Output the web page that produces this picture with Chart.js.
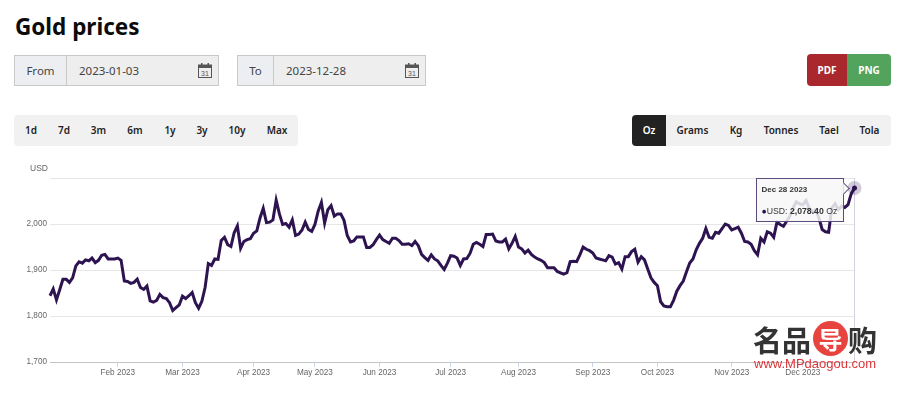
<!DOCTYPE html>
<html lang="en">
<head>
  <meta charset="UTF-8">
  <title>Gold prices</title>
  <style>
    html, body { margin: 0; padding: 0; background: #fff; }
    body { width: 900px; height: 393px; position: relative; overflow: hidden; font-family: "Noto Sans", sans-serif; }
    h1 { position: absolute; left: 15px; top: 9px; margin: 0; font-size: 22.5px; line-height: 36px; font-weight: 700; color: #0b0b0b; }

    .range { position: absolute; top: 55px; height: 29px; border: 1.5px solid #c9c9c9; background: #eeeeee; color: #444; font-size: 11.5px; line-height: 29px; }
    .range .lbl { position: absolute; left: 0; top: 0; bottom: 0; background: #eceef2; border-right: 1.5px solid #c9c9c9; text-align: center; }
    .range .val { position: absolute; top: 0; }
    .range svg { position: absolute; top: 7px; }

    .export { position: absolute; left: 807px; top: 54px; width: 84px; height: 32px; border-radius: 4px; overflow: hidden; color: #fff; font-size: 10px; font-weight: 700; line-height: 32px; text-align: center; }
    .export div { position: absolute; top: 0; bottom: 0; }

    .bar { position: absolute; top: 115px; height: 31px; background: #f1f1f1; border-radius: 4px; font-size: 10px; font-weight: 600; color: #222; }
    .bar span { position: absolute; top: 0; line-height: 31px; transform: translateX(-50%); }
    .bar .on { position: absolute; left: 0; top: 0; bottom: 0; width: 34px; background: #222; border-radius: 4px 0 0 4px; }

    #wrap { position: absolute; left: 0; top: 150px; width: 900px; height: 243px; }
    #usd { position: absolute; left: 30px; top: 163px; font: 8.5px "Liberation Sans", sans-serif; color: #666; }

    #tip { position: absolute; display: none; width: 86px; height: 42px; background: rgba(247,247,247,.85); border: 1px solid #5d4b7d; font-family: "Liberation Sans", sans-serif; color: #333; }
    #tip b.t { position: absolute; left: 5px; top: 6px; font-size: 8px; white-space: nowrap; }
    #tip .l { position: absolute; left: 5px; top: 27px; font-size: 8.7px; white-space: nowrap; }
    #tip .c { position: absolute; right: -5px; top: 5px; width: 8px; height: 8px; background: rgba(247,247,247,.85); border: solid #5d4b7d; border-width: 1px 1px 0 0; transform: rotate(45deg); }

    #mark { position: absolute; left: 0; top: 0; pointer-events: none; }
    #mark span { position: absolute; white-space: nowrap; }
    #mark .cn { font: 700 29px/36px "Noto Sans CJK SC", sans-serif; color: #333; top: 321px; }
    #mark .dot { left: 813px; top: 321px; width: 35px; height: 35px; border-radius: 50%; background: #e8443f; color: #fff; font: 700 24px/35px "Noto Sans CJK SC", sans-serif; text-align: center; }
    #mark .url { left: 754px; top: 356px; font: 13px/15px "Liberation Sans", sans-serif; color: #d9363a; }
  </style>
</head>
<body>
  <h1>Gold prices</h1>

  <div class="range" style="left:14px;width:203px">
    <div class="lbl" style="width:51px">From</div>
    <div class="val" style="left:64px">2023-01-03</div>
    <svg style="left:183px" width="14" height="15" viewBox="0 0 14 15"><rect x=".5" y="2" width="13" height="12.5" fill="none" stroke="#555"/><rect x=".5" y="2" width="13" height="3" fill="#555"/><rect x="3" y="0" width="1.5" height="3" fill="#555"/><rect x="9.5" y="0" width="1.5" height="3" fill="#555"/><text x="7" y="12.5" font-size="7" text-anchor="middle" fill="#555" font-family="Liberation Sans">31</text></svg>
  </div>
  <div class="range" style="left:237px;width:187px">
    <div class="lbl" style="width:35px">To</div>
    <div class="val" style="left:48px">2023-12-28</div>
    <svg style="left:167px" width="14" height="15" viewBox="0 0 14 15"><rect x=".5" y="2" width="13" height="12.5" fill="none" stroke="#555"/><rect x=".5" y="2" width="13" height="3" fill="#555"/><rect x="3" y="0" width="1.5" height="3" fill="#555"/><rect x="9.5" y="0" width="1.5" height="3" fill="#555"/><text x="7" y="12.5" font-size="7" text-anchor="middle" fill="#555" font-family="Liberation Sans">31</text></svg>
  </div>

  <div class="export">
    <div style="left:0;width:40px;background:#a9282d">PDF</div>
    <div style="left:40px;width:44px;background:#52a35c">PNG</div>
  </div>

  <div class="bar" id="periods" style="left:14px;width:284px"></div>
  <div class="bar" id="units" style="left:632px;width:259px"><div class="on"></div></div>

  <div id="wrap"><canvas id="grafico"></canvas></div>
  <div id="usd">USD</div>
  <div id="tip"><b class="t"></b><div class="l"></div><div class="c"></div></div>

  <div id="mark">
    <span class="cn" style="left:753px">名品</span>
    <span class="dot">导</span>
    <span class="cn" style="left:848px">购</span>
    <span class="url">www.MPdaogou.com</span>
  </div>

  <script src="https://cdn.jsdelivr.net/npm/chart.js"></script>
  <script>
    // Trading day slot where each month tick sits, and its label
    const tickSlots = [21, 41, 63, 82, 102, 124, 145, 168, 188, 211, 233];
    const tickLabels = ['Feb 2023', 'Mar 2023', 'Apr 2023', 'May 2023', 'Jun 2023', 'Jul 2023', 'Aug 2023', 'Sep 2023', 'Oct 2023', 'Nov 2023', 'Dec 2023'];
    const yTicks = [1700, 1800, 1900, 2000, 2100];
    const lastDate = 'Dec 28 2023';

    // USD per oz, one value per trading day
    const usdPerOz = [
      1844,1859,1835,1857,1880,1880,1873,1883,1909,1918,
      1915,1922,1920,1926,1916,1921,1932,1934,1924,1924,
      1924,1926,1921,1876,1875,1871,1873,1880,1862,1858,
      1865,1833,1830,1834,1847,1840,1838,1829,1812,1818,
      1824,1843,1838,1844,1851,1829,1817,1832,1862,1914,
      1910,1924,1923,1964,1971,1955,1951,1981,1996,1947,
      1962,1966,1968,1980,1985,2013,2034,2003,2004,2009,
      2052,2022,1999,2001,1993,2009,1975,1978,1987,2004,
      1988,1984,1999,2028,
      2047,2002,2031,2040,2017,2022,2022,2008,1975,1961,
      1963,1972,1972,1972,1949,1949,1955,1966,1976,1966,
      1962,1958,1969,1969,1964,1956,1956,1957,1953,1962,
      1953,1934,1927,1921,1933,1924,1920,1910,1901,1915,
      1931,1930,1926,1910,1924,1925,1936,1956,1960,1956,
      1951,1977,1977,1978,1963,1961,1961,1967,1946,1958,
      1973,1950,1946,1937,1943,1934,1928,1924,1921,1916,
      1905,1905,1905,1897,1894,1891,1894,1918,1919,1918,
      1933,1950,1945,1942,1937,1926,
      1924,1922,1920,1931,1928,1913,1916,1902,1929,1929,
      1940,1945,1917,1929,1922,1902,1883,1873,1866,1831,
      1822,1820,1820,1834,1854,1866,1876,1896,1915,1924,
      1944,1958,1969,1990,1971,1969,1982,1980,1990,2000,
      1997,1987,1990,1993,1980,1962,1961,1956,1942,1933,
      1969,1961,1983,1980,1971,2004,1999,1995,2006,2017,
      2035,2048,2044,2042,2051,2034,2026,2031,2013,1988,
      1983,1982,2035,2044,2031,2039,2036,2042,2066,2078.4
    ];

    const periods = [['1d', 31], ['7d', 64], ['3m', 98.5], ['6m', 135], ['1y', 170], ['3y', 202], ['10y', 237], ['Max', 277]];
    const units = [['Oz', 649], ['Grams', 692.5], ['Kg', 736], ['Tonnes', 781], ['Tael', 829], ['Tola', 869.5]];

    function fillBar(id, items, originX) {
      const bar = document.getElementById(id);
      items.forEach(([text, x], i) => {
        const tag = document.createElement('span');
        tag.textContent = text;
        tag.style.left = (x - originX) + 'px';
        if (id === 'units' && i === 0) tag.style.color = '#fff';
        bar.appendChild(tag);
      });
    }
    fillBar('periods', periods, 14);
    fillBar('units', units, 632);

    // Each slot carries the month it belongs to, so the ticks pick the label up
    const categories = usdPerOz.map((v, i) => {
      let label = 'Jan 2023';
      tickSlots.forEach((slot, t) => { if (i >= slot) label = tickLabels[t]; });
      return label;
    });

    const crosshair = {
      id: 'crosshair',
      beforeDatasetsDraw(chart) {
        const active = chart.getActiveElements();
        if (!active.length) return;
        const { ctx, chartArea } = chart;
        ctx.save();
        ctx.strokeStyle = '#d3d3e0';
        ctx.lineWidth = 1;
        ctx.beginPath();
        ctx.moveTo(active[0].element.x, chartArea.top);
        ctx.lineTo(active[0].element.x, chartArea.bottom);
        ctx.stroke();
        ctx.restore();
      }
    };

    function htmlTooltip(context) {
      const tip = document.getElementById('tip');
      const model = context.tooltip;
      if (model.opacity === 0 || !model.dataPoints || !model.dataPoints.length) { tip.style.display = 'none'; return; }
      const value = model.dataPoints[0].parsed.y;
      tip.querySelector('.t').textContent = lastDate;
      tip.querySelector('.l').innerHTML = '<span style="color:#2d1450">●</span>USD: <b>' +
        value.toLocaleString('en-US', { minimumFractionDigits: 2 }) + '</b> Oz';
      tip.style.display = 'block';
      tip.style.left = (model.caretX - 99) + 'px';
      tip.style.top = (150 + model.caretY - 9.5) + 'px';
    }

    const chart = new Chart(document.getElementById('grafico'), {
      type: 'line',
      data: {
        labels: categories,
        datasets: [{
          label: 'USD',
          data: usdPerOz,
          borderColor: '#2d1450',
          borderWidth: 3,
          tension: 0,
          clip: false,
          pointRadius: 0,
          pointHoverRadius: 2.5,
          pointHoverBackgroundColor: '#2d1450',
          pointHoverBorderColor: 'rgba(45,20,80,.22)',
          pointHoverBorderWidth: 9
        }]
      },
      plugins: [crosshair],
      options: {
        responsive: true,
        maintainAspectRatio: false,
        animation: false,
        events: [],
        layout: { padding: { top: 28, right: 45.5, left: 0, bottom: 0 } },
        plugins: {
          legend: { display: false },
          title: { display: false },
          tooltip: { enabled: false, external: htmlTooltip, animation: false }
        },
        scales: {
          x: {
            type: 'category',
            afterBuildTicks: axis => { axis.ticks = tickSlots.map(slot => ({ value: slot })); },
            afterFit: axis => { axis.height = 31; },
            border: { color: '#c4c4c4', width: 1 },
            grid: { drawOnChartArea: false, tickLength: 5, tickColor: '#ccd6eb' },
            ticks: {
              autoSkip: false,
              maxRotation: 0,
              padding: 1,
              color: '#666',
              font: { family: '"Liberation Sans", sans-serif', size: 8.2 }
            }
          },
          y: {
            min: yTicks[0],
            max: yTicks[yTicks.length - 1],
            afterBuildTicks: axis => { axis.ticks = yTicks.map(v => ({ value: v })); },
            afterFit: axis => { axis.width = 50; },
            border: { display: false },
            grid: { color: '#e6e6e6', drawTicks: false },
            ticks: {
              padding: 3,
              color: '#666',
              font: { family: '"Liberation Sans", sans-serif', size: 8.2 },
              callback: v => (v === 2100 ? '' : v.toLocaleString('en-US'))
            }
          }
        }
      }
    });

    // The reference shows the tooltip held on the last trading day
    const last = [{ datasetIndex: 0, index: usdPerOz.length - 1 }];
    chart.setActiveElements(last);
    chart.tooltip.setActiveElements(last, { x: 0, y: 0 });
    chart.update();
  </script>
</body>
</html>
